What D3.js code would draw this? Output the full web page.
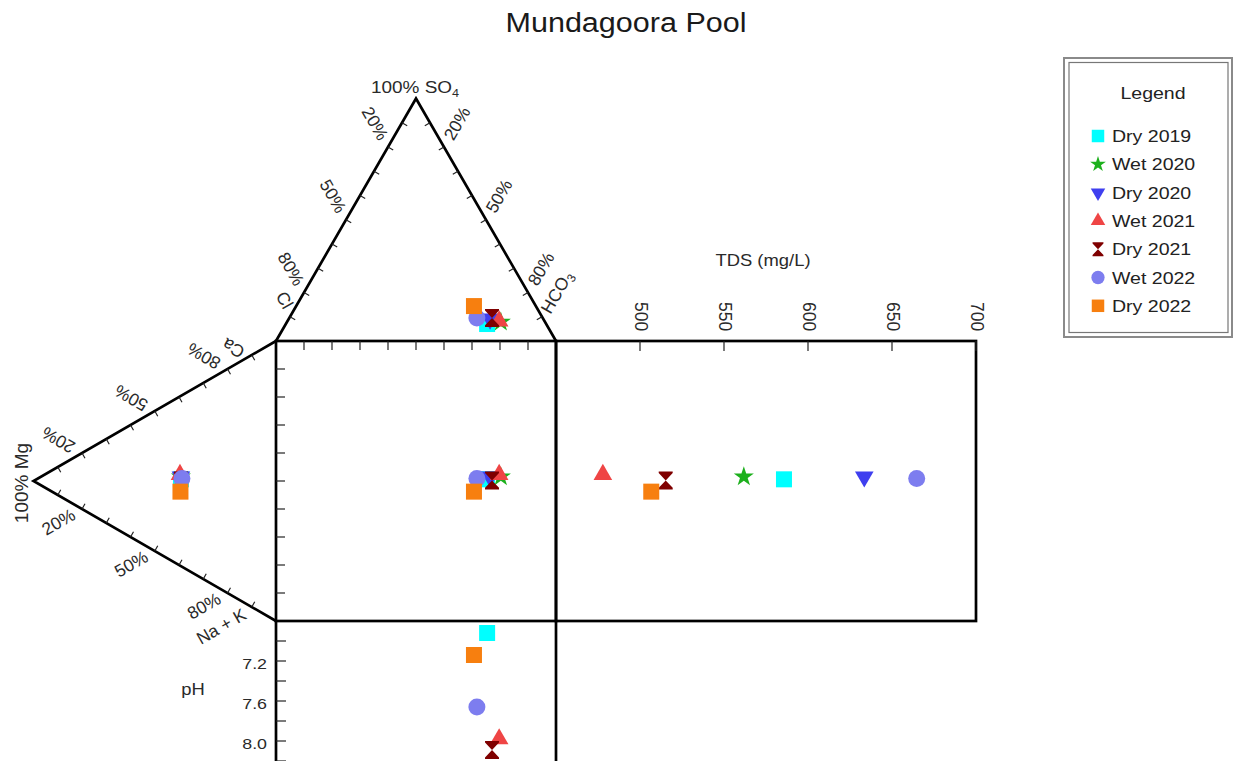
<!DOCTYPE html>
<html><head><meta charset="utf-8">
<script src="https://cdn.jsdelivr.net/npm/d3@7"></script>
<style>
body{margin:0;background:#fff;}
svg{display:block;font-family:"Liberation Sans",Arial,sans-serif;}
</style>
</head><body>
<svg id="c" width="1234" height="761"></svg>
<script>
// ---------------- DATA ----------------
const series  = ["Dry 2019","Wet 2020","Dry 2020","Wet 2021","Dry 2021","Wet 2022","Dry 2022"];
const colors  = ["#00FFFF","#1DB01D","#3F3FEF","#EF4545","#7F0000","#7D7DEF","#F77F0F"];
const shapes  = ["square","star","triangleDown","triangleUp","hourglass","circle","square"];
// cations (% meq)
const caPct   = [31.0, 31.9, 31.9, 32.5, 30.6, 31.5, 26.5];
const mgPct   = [39.2, 39.2, 39.2, 39.6, 39.2, 38.8, 39.4];
const naKPct  = [29.8, 28.9, 28.9, 27.9, 30.2, 29.7, 34.1];
// anions (% meq)
const hco3Pct = [71.9, 76.4, 71.9, 75.6, 72.4, 67.0, 63.5];
const so4Pct  = [ 7.0,  7.8,  9.1,  8.2,  9.5,  9.5, 14.4];
const clPct   = [21.1, 15.8, 19.0, 16.2, 18.1, 23.5, 22.1];
// TDS (mg/L) and pH
const tdsVals = [585.7, 561.8, 633.5, 477.9, 515.3, 664.7, 506.7];
const phVals  = [6.92, 8.35, 8.45, 7.98, 8.09, 7.66, 7.14];
const tdsTicks = [500, 550, 600, 650, 700];
const phTicks  = [7.0, 7.2, 7.4, 7.6, 7.8, 8.0, 8.2, 8.4];
const phLabels = [7.2, 7.6, 8.0];
const pctLabels = [20, 50, 80];
const pctTicks = [10,20,30,40,50,60,70,80,90];

// ---------------- GEOMETRY ----------------
const svg = d3.select("#c");
svg.append("rect").attr("width",1234).attr("height",761).attr("fill","#fff");
const X0 = 276, Y0 = 341, S = 280, H = S*Math.sqrt(3)/2;
const xSq = d3.scaleLinear([0,100],[X0, X0+S]);
const ySq = d3.scaleLinear([0,100],[Y0, Y0+S]);
const hTri = d3.scaleLinear([0,100],[0, H]);
const xTds = d3.scaleLinear([450,700],[X0+S, X0+S+420]);
const yPh  = d3.scaleLinear([6.8, 9.6],[Y0+S, Y0+S+280]);

const apexT = [X0+S/2, Y0-H], clC = [X0, Y0], hcC = [X0+S, Y0];
const apexL = [X0-H, Y0+S/2], caC = [X0, Y0], nakC = [X0, Y0+S];

const TXT = "#2a2a2a", SX = 1.15;
const ink = "#000", LW = 2.7;

// ---------------- FRAMES ----------------
const frame = svg.append("g").attr("fill","none").attr("stroke",ink).attr("stroke-width",LW).attr("stroke-linejoin","miter");
frame.append("path").attr("d", d3.line()([clC, apexT, hcC]));
frame.append("path").attr("d", d3.line()([caC, apexL, nakC]));
frame.append("rect").attr("x",X0).attr("y",Y0).attr("width",S).attr("height",S);
frame.append("rect").attr("x",X0+S).attr("y",Y0).attr("width",xTds(700)-(X0+S)).attr("height",S);
frame.append("path").attr("d", d3.line()([[X0,Y0+S],[X0,Y0+S+200]]));
frame.append("path").attr("d", d3.line()([[X0+S,Y0+S],[X0+S,Y0+S+200]]));

// ---------------- TICKS ----------------
const tk = svg.append("g").attr("stroke","#222").attr("stroke-width",1.2);
function sideTicks(a, b, nIn, len){
  pctTicks.forEach(v=>{
    const t=v/100, p=[a[0]+(b[0]-a[0])*t, a[1]+(b[1]-a[1])*t];
    tk.append("line").attr("x1",p[0]).attr("y1",p[1]).attr("x2",p[0]+nIn[0]*len).attr("y2",p[1]+nIn[1]*len);
  });
}
sideTicks(apexT, clC, [0.866,0.5], 6);
sideTicks(apexT, hcC, [-0.866,0.5], 6);
sideTicks(apexL, caC, [0.5,0.866], 6);
sideTicks(apexL, nakC, [0.5,-0.866], 6);
pctTicks.forEach(v=>{
  tk.append("line").attr("x1",xSq(v)).attr("x2",xSq(v)).attr("y1",Y0).attr("y2",Y0+9);
  tk.append("line").attr("y1",ySq(v)).attr("y2",ySq(v)).attr("x1",X0).attr("x2",X0+9);
});
tdsTicks.forEach(v=>{
  tk.append("line").attr("x1",xTds(v)).attr("x2",xTds(v)).attr("y1",Y0).attr("y2",Y0+10);
});
phTicks.forEach(v=>{
  tk.append("line").attr("x1",X0).attr("x2",X0+10).attr("y1",yPh(v)).attr("y2",yPh(v));
});

// ---------------- TEXT HELPERS ----------------
function htext(x, y, str, size, anchor, fill){
  return svg.append("text").attr("transform",`translate(${x},${y}) scale(${SX},1)`)
    .attr("text-anchor",anchor||"middle").attr("font-size",size).attr("fill",fill||TXT).text(str);
}
function rtext(x, y, rot, size){
  return svg.append("text").attr("transform",`translate(${x},${y}) rotate(${rot})`)
    .attr("text-anchor","middle").attr("dy","0.35em").attr("font-size",size).attr("fill",TXT);
}
function sideLabel(a, b, t, d, nOut, rot, size){
  const p=[a[0]+(b[0]-a[0])*t + nOut[0]*d, a[1]+(b[1]-a[1])*t + nOut[1]*d];
  return rtext(p[0], p[1], rot, size);
}

// Title
htext(626, 32, "Mundagoora Pool", 27.5, "middle", "#1a1a1a").attr("transform","translate(626,32) scale(1.11,1)");

// top triangle labels
const st = htext(X0+S/2-1, 93, "100% SO", 16.5);
st.append("tspan").attr("font-size",11).attr("dy",4).text("4");
const LF = 17.5;
pctLabels.forEach(v=>{
  sideLabel(apexT, clC, v/100-0.05, 23, [-0.866,-0.5], 60, LF).text(v+"%");
  sideLabel(apexT, hcC, v/100-0.05, 23, [0.866,-0.5], -60, LF).text(v+"%");
  sideLabel(apexL, caC, v/100-0.05, 23, [-0.5,-0.866], -150, LF).text(v+"%");
  sideLabel(apexL, nakC, v/100-0.05, 23, [-0.5,0.866], -30, LF).text(v+"%");
});
sideLabel(apexT, clC, 0.858, 13, [-0.866,-0.5], 60, LF).text("Cl");
const hc = sideLabel(apexT, hcC, 0.85, 25, [0.866,-0.5], -60, LF).text("HCO");
hc.append("tspan").attr("font-size",12).attr("dy","0.3em").text("3");
sideLabel(apexL, caC, 0.855, 15, [-0.5,-0.866], -150, LF).text("Ca");
sideLabel(apexL, nakC, 0.84, 32, [-0.5,0.866], -30, LF).text("Na + K");
rtext(apexL[0]-12, apexL[1]+2, -90, 19).text("100% Mg");

// TDS axis
htext(763, 266, "TDS (mg/L)", 16);
tdsTicks.forEach(v=>{
  svg.append("text").attr("transform",`translate(${xTds(v)+1},302) rotate(90)`)
    .attr("text-anchor","start").attr("dy","0.35em").attr("font-size",17.5).attr("fill",TXT).text(v);
});

// pH axis
phLabels.forEach(v=>{
  htext(267, yPh(v)+2.5, v.toFixed(1), 15.5, "end").attr("dy","0.35em");
});
htext(193, 695, "pH", 16);

// ---------------- MARKERS ----------------
function marker(g, shape, color, x, y, s){
  let el;
  if(shape==="square"){
    const a=16*s;
    el=g.append("rect").attr("x",x-a/2).attr("y",y-a/2).attr("width",a).attr("height",a);
  } else if(shape==="circle"){
    el=g.append("circle").attr("cx",x).attr("cy",y).attr("r",8.5*s);
  } else if(shape==="star"){
    el=g.append("path").attr("d",d3.symbol(d3.symbolStar,125*s*s)()).attr("transform",`translate(${x},${y})`);
  } else if(shape==="triangleUp"){
    el=g.append("path").attr("d",d3.symbol(d3.symbolTriangle,150*s*s)()).attr("transform",`translate(${x},${y})`);
  } else if(shape==="triangleDown"){
    el=g.append("path").attr("d",d3.symbol(d3.symbolTriangle,150*s*s)()).attr("transform",`translate(${x},${y}) rotate(180)`);
  } else if(shape==="hourglass"){
    const w=7*s, h=9*s, b=1.6*s;
    const p=`M${-w},${-h}H${w}V${-h+b}L0,0L${w},${h-b}V${h}H${-w}V${h-b}L0,0L${-w},${-h+b}Z`;
    el=g.append("path").attr("d",p).attr("transform",`translate(${x},${y})`);
  }
  el.attr("fill",color);
  return el;
}

const pts = svg.append("g");
series.forEach((name,i)=>{
  const tx = xSq(hco3Pct[i] + so4Pct[i]/2);
  const ty = Y0 - hTri(so4Pct[i]);
  const lx = X0 - hTri(mgPct[i]);
  const ly = ySq(naKPct[i] + mgPct[i]/2);
  marker(pts, shapes[i], colors[i], tx, ty, 1);            // anion triangle
  marker(pts, shapes[i], colors[i], lx, ly, 1);            // cation triangle
  marker(pts, shapes[i], colors[i], tx, ly, 1);            // central square
  marker(pts, shapes[i], colors[i], xTds(tdsVals[i]), ly, 1); // TDS
  marker(pts, shapes[i], colors[i], tx, yPh(phVals[i]), 1);   // pH
});

// ---------------- LEGEND ----------------
const lg = svg.append("g");
lg.append("rect").attr("x",1064).attr("y",58).attr("width",168).attr("height",279)
  .attr("fill","none").attr("stroke","#8a8a8a").attr("stroke-width",2);
lg.append("rect").attr("x",1069).attr("y",62.5).attr("width",159).attr("height",270)
  .attr("fill","none").attr("stroke","#777").attr("stroke-width",1.2);
htext(1153, 99, "Legend", 17, "middle", "#222");
series.forEach((name,i)=>{
  const by = 142 + i*28.3;
  marker(lg, shapes[i], colors[i], 1098, by-6, 0.78);
  htext(1112, by, name, 17, "start", "#222");
});
</script>
</body></html>
